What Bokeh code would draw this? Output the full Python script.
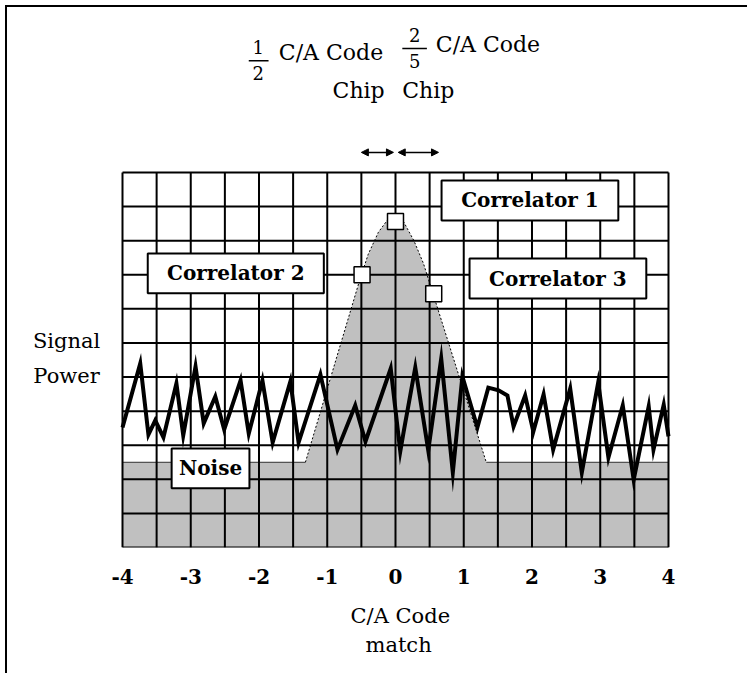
from bokeh.plotting import figure
from bokeh.models import Arrow, NormalHead, FixedTicker, Range1d, ColumnDataSource, Title
from bokeh.core.properties import value
from bokeh.embed import file_html
from bokeh.resources import INLINE

# ---- data ----
x_ticks = [-4, -3, -2, -1, 0, 1, 2, 3, 4]
x_tick_labels = ["-4", "-3", "-2", "-1", "0", "1", "2", "3", "4"]

grid_x = [-4 + 0.5 * i for i in range(17)]   # vertical grid lines (every half chip)
grid_y = list(range(12))                      # horizontal grid lines
grid_x_min, grid_x_max = -4, 4
grid_y_min, grid_y_max = 0, 11

noise_floor = 2.5
floor_left_x = [-4.0]
floor_right_x = [4.0]

signal_x = [-1.32, -0.54, -0.40, -0.25, -0.12, 0.0, 0.12, 0.27, 0.41, 1.33]
signal_y = [2.5, 7.74, 8.6, 9.25, 9.6, 9.75, 9.55, 9.0, 8.33, 2.5]

noise_x = [-4.0, -3.74, -3.62, -3.52, -3.40, -3.21, -3.11, -2.93, -2.81, -2.64,
           -2.51, -2.27, -2.15, -1.95, -1.80, -1.54, -1.42, -1.10, -0.85, -0.59,
           -0.44, -0.07, 0.07, 0.12, 0.29, 0.48, 0.67, 0.84, 0.98, 1.20,
           1.36, 1.51, 1.64, 1.73, 1.90, 2.02, 2.17, 2.31, 2.56, 2.73,
           2.97, 3.12, 3.33, 3.49, 3.71, 3.78, 3.93, 4.0]
noise_y = [3.52, 5.40, 3.31, 3.73, 3.23, 4.81, 3.29, 5.31, 3.64, 4.43,
           3.46, 4.90, 3.34, 4.90, 3.08, 4.87, 3.08, 5.07, 2.87, 4.17,
           3.11, 5.25, 2.82, 3.40, 5.28, 2.85, 5.54, 2.20, 5.02, 3.52,
           4.69, 4.61, 4.46, 3.55, 4.46, 3.40, 4.49, 2.87, 4.66, 2.20,
           4.84, 2.64, 4.17, 1.99, 4.14, 2.87, 4.19, 3.26]

corr_x = [0.0, -0.49, 0.56]
corr_y = [9.56, 8.0, 7.44]

box_labels = ["Correlator 1", "Correlator 2", "Correlator 3", "Noise"]
box_x = [1.97, -2.34, 2.38, -2.71]
box_y = [10.18, 8.04, 7.89, 2.32]
box_w = [2.59, 2.58, 2.59, 1.14]
box_h = [1.17, 1.17, 1.17, 1.17]

# annotation texts around the grid
side_text = ["Signal", "Power"]
side_x = [-4.82, -4.82]
side_y = [6.07, 5.02]

frac_text = ["1", "2", "2", "5"]
frac_x = [-2.01, -2.01, 0.28, 0.28]
frac_y = [14.67, 13.93, 15.02, 14.26]
frac_bar_x0 = [-2.15, 0.10]
frac_bar_x1 = [-1.86, 0.46]
frac_bar_y = [14.28, 14.64]

top_text = ["C/A Code", "C/A Code", "Chip", "Chip"]
top_x = [-0.945, 1.355, -0.54, 0.48]
top_y = [14.52, 14.75, 13.41, 13.41]

chip_arrow_x0 = [-0.50, 0.04]
chip_arrow_x1 = [-0.03, 0.63]
chip_arrow_y = 11.59

serif = "DejaVu Serif"

p = figure(width=742, height=668, output_backend="svg", toolbar_location=None,
           x_range=Range1d(-5.685, 5.187), y_range=Range1d(0, 15.84),
           min_border_left=0, min_border_right=0, min_border_top=0, min_border_bottom=128,
           background_fill_color="white", border_fill_color="white")
p.styles = {"margin-left": "5px", "margin-top": "5px",
            "border-left": "2px solid black", "border-top": "2px solid black"}
p.outline_line_color = None
p.xgrid.visible = False
p.ygrid.visible = False
p.yaxis.visible = False

# gray area: noise floor + correlation peak
fill_x = floor_left_x + signal_x + floor_right_x
fill_y = [noise_floor] + signal_y + [noise_floor]
p.varea(x=fill_x, y1=[0] * len(fill_x), y2=fill_y, fill_color="#c0c0c0", level="image")
p.line(x=floor_left_x + signal_x[:1], y=[noise_floor, noise_floor], line_color="#303030",
       line_width=1, level="image")
p.line(x=signal_x[-1:] + floor_right_x, y=[noise_floor, noise_floor], line_color="#303030",
       line_width=1, level="image")
p.line(x=signal_x, y=signal_y, line_color="black", line_width=1, line_dash="2 2", level="image")

# grid drawn over the gray area, limited to the chart box
p.segment(x0=grid_x, y0=[grid_y_min] * len(grid_x), x1=grid_x, y1=[grid_y_max] * len(grid_x),
          line_color="black", line_width=2, level="underlay")
p.segment(x0=[grid_x_min] * len(grid_y), y0=grid_y, x1=[grid_x_max] * len(grid_y), y1=grid_y,
          line_color="black", line_width=2, level="underlay")

# noise trace
p.line(x=noise_x, y=noise_y, line_color="black", line_width=4, line_join="miter")

# correlator sample points
p.scatter(x=corr_x, y=corr_y, marker="square", size=16, fill_color="white",
          line_color="black", line_width=1.5)

# label boxes
src = ColumnDataSource(dict(x=box_x, y=box_y, w=box_w, h=box_h, t=box_labels))
p.rect(x="x", y="y", width="w", height="h", source=src, fill_color="white",
       line_color="black", line_width=2)
p.text(x="x", y="y", text="t", source=src, text_font=value(serif), text_font_style="bold",
       text_font_size="20px", text_align="center", text_baseline="middle", text_color="black")

# texts around the grid
p.text(x=side_x, y=side_y, text=side_text, text_font=value(serif), text_font_size="21px",
       text_align="center", text_baseline="middle", text_color="black")
p.text(x=top_x, y=top_y, text=top_text, text_font=value(serif), text_font_size="22px",
       text_align="center", text_baseline="middle", text_color="black")
p.text(x=frac_x, y=frac_y, text=frac_text, text_font=value(serif), text_font_size="18px",
       text_align="center", text_baseline="middle", text_color="black")
p.segment(x0=frac_bar_x0, y0=frac_bar_y, x1=frac_bar_x1, y1=frac_bar_y,
          line_color="black", line_width=1.5)

# chip-width arrows
for xs, xe in zip(chip_arrow_x0, chip_arrow_x1):
    p.add_layout(Arrow(x_start=xs, y_start=chip_arrow_y, x_end=xe, y_end=chip_arrow_y,
                       start=NormalHead(size=7, fill_color="black", line_color="black"),
                       end=NormalHead(size=7, fill_color="black", line_color="black"),
                       line_color="black", line_width=1.5))

# x axis
ax = p.xaxis[0]
ax.ticker = FixedTicker(ticks=x_ticks)
ax.major_label_overrides = {t: s for t, s in zip(x_ticks, x_tick_labels)}
ax.major_label_text_font = serif
ax.major_label_text_font_style = "bold"
ax.major_label_text_font_size = "20px"
ax.major_label_text_color = "black"
ax.major_label_standoff = 15
ax.major_tick_line_color = None
ax.minor_tick_line_color = None
ax.axis_line_color = None

# axis title (two lines, centred under 0)
for txt, off, so in [("C/A Code", 343, 30), ("match", 358, -24)]:
    p.add_layout(Title(text=txt, align="left", offset=off, standoff=so, text_font=serif,
                       text_font_size="21px", text_font_style="normal", text_color="black"),
                 "below")

open("out.html", "w").write(file_html(p, INLINE))
